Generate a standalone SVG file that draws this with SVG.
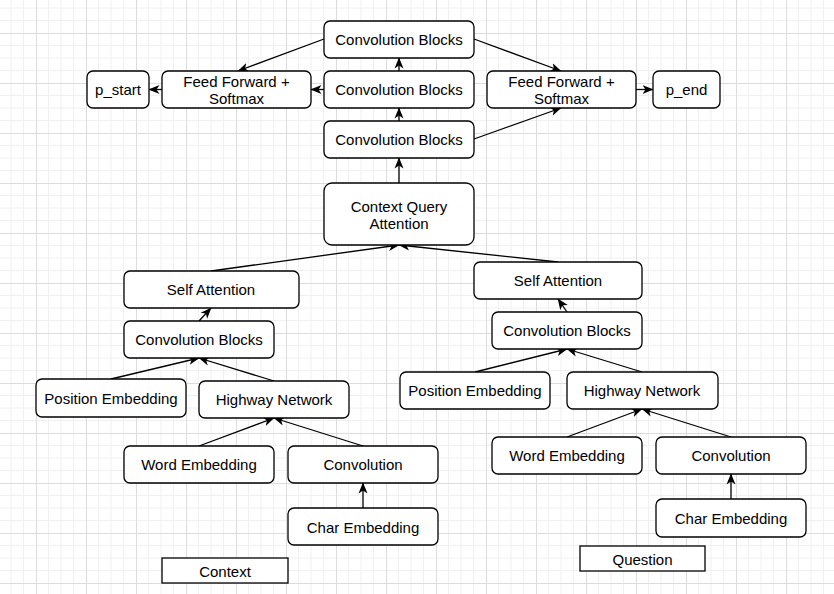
<svg xmlns="http://www.w3.org/2000/svg" width="834" height="594" viewBox="0 0 834 594">
  <defs>
    <pattern id="grid" x="36" y="33" width="50" height="50" patternUnits="userSpaceOnUse">
      <path d="M12.5,0V50M25,0V50M37.5,0V50M0,12.5H50M0,25H50M0,37.5H50" stroke="#f0f0f0" stroke-width="1" fill="none"/>
      <path d="M0.5,0V50M0,0.5H50" stroke="#dcdcdc" stroke-width="1" fill="none"/>
    </pattern>
    <marker id="arr" viewBox="0 0 11 10" markerWidth="11" markerHeight="10" refX="10.5" refY="5" orient="auto" markerUnits="userSpaceOnUse">
      <path d="M0,0.5 L11,5 L0,9.5 L3,5 Z" fill="#000"/>
    </marker>
  </defs>
  <style>
    .n rect { fill: #fff; stroke: #000; stroke-width: 1.3; }
    .n text { font-family: "Liberation Sans", Arial, sans-serif; font-size: 15px; fill: #000; text-anchor: middle; dominant-baseline: central; }
    #connectors line { stroke: #000; stroke-width: 1.3; fill: none; marker-end: url(#arr); }
  </style>
  <rect width="834" height="594" fill="#fff"/>
  <rect width="834" height="594" fill="url(#grid)"/>

  <g id="connectors">
    <line x1="324" y1="39" x2="238" y2="71"/>
    <line x1="474" y1="39" x2="561" y2="71"/>
    <line x1="399" y1="71" x2="399" y2="58"/>
    <line x1="324" y1="89.5" x2="311" y2="89.5"/>
    <line x1="162" y1="89.5" x2="149" y2="89.5"/>
    <line x1="399" y1="121" x2="399" y2="108"/>
    <line x1="474" y1="139" x2="561" y2="108"/>
    <line x1="636" y1="89.5" x2="653" y2="89.5"/>
    <line x1="399" y1="183" x2="399" y2="158"/>
    <line x1="211" y1="271" x2="399" y2="245"/>
    <line x1="558" y1="262" x2="399" y2="245"/>
    <line x1="199" y1="321" x2="211" y2="308"/>
    <line x1="567" y1="312" x2="558" y2="299"/>
    <line x1="111" y1="379" x2="199" y2="358"/>
    <line x1="274" y1="381" x2="199" y2="358"/>
    <line x1="199" y1="446" x2="274" y2="418"/>
    <line x1="363" y1="446" x2="274" y2="418"/>
    <line x1="363" y1="508" x2="363" y2="483"/>
    <line x1="475" y1="372" x2="567" y2="349"/>
    <line x1="642" y1="372" x2="567" y2="349"/>
    <line x1="567" y1="437" x2="642" y2="409"/>
    <line x1="731" y1="437" x2="642" y2="409"/>
    <line x1="731" y1="499" x2="731" y2="474"/>
  </g>

  <g id="conv-top" class="n"><rect x="324" y="21" width="150" height="37" rx="6"/><text x="399" y="39.5">Convolution Blocks</text></g>
  <g id="conv-mid" class="n"><rect x="324" y="71" width="150" height="37" rx="6"/><text x="399" y="89.5">Convolution Blocks</text></g>
  <g id="conv-bot" class="n"><rect x="324" y="121" width="150" height="37" rx="6"/><text x="399" y="139.5">Convolution Blocks</text></g>
  <g id="ff-left" class="n"><rect x="162" y="71" width="149" height="37" rx="6"/><text x="236.5" y="81">Feed Forward +</text><text x="236.5" y="98.5">Softmax</text></g>
  <g id="p-start" class="n"><rect x="87" y="71" width="62" height="37" rx="6"/><text x="118" y="89.5">p_start</text></g>
  <g id="ff-right" class="n"><rect x="487" y="71" width="149" height="37" rx="6"/><text x="561.5" y="81">Feed Forward +</text><text x="561.5" y="98.5">Softmax</text></g>
  <g id="p-end" class="n"><rect x="653" y="71" width="67" height="37" rx="6"/><text x="686.5" y="89.5">p_end</text></g>
  <g id="cqa" class="n"><rect x="324" y="183" width="150" height="62" rx="8"/><text x="399" y="206">Context Query</text><text x="399" y="223.5">Attention</text></g>

  <g id="c-selfatt" class="n"><rect x="124" y="271" width="175" height="37" rx="6"/><text x="211" y="289.5">Self Attention</text></g>
  <g id="c-conv" class="n"><rect x="124" y="321" width="150" height="37" rx="6"/><text x="199" y="339.5">Convolution Blocks</text></g>
  <g id="c-pos" class="n"><rect x="36" y="379" width="150" height="38" rx="6"/><text x="111" y="398">Position Embedding</text></g>
  <g id="c-highway" class="n"><rect x="199" y="381" width="150" height="37" rx="6"/><text x="274" y="399.5">Highway Network</text></g>
  <g id="c-word" class="n"><rect x="124" y="446" width="150" height="37" rx="6"/><text x="199" y="464.5">Word Embedding</text></g>
  <g id="c-convolution" class="n"><rect x="288" y="446" width="150" height="37" rx="6"/><text x="363" y="464.5">Convolution</text></g>
  <g id="c-char" class="n"><rect x="288" y="508" width="150" height="37" rx="6"/><text x="363" y="527">Char Embedding</text></g>
  <g id="c-label" class="n"><rect x="162" y="558" width="126" height="25"/><text x="225" y="571">Context</text></g>

  <g id="q-selfatt" class="n"><rect x="474" y="262" width="168" height="37" rx="6"/><text x="558" y="280.5">Self Attention</text></g>
  <g id="q-conv" class="n"><rect x="492" y="312" width="150" height="37" rx="6"/><text x="567" y="330.5">Convolution Blocks</text></g>
  <g id="q-pos" class="n"><rect x="400" y="372" width="150" height="37" rx="6"/><text x="475" y="390.5">Position Embedding</text></g>
  <g id="q-highway" class="n"><rect x="567" y="372" width="151" height="37" rx="6"/><text x="642" y="390.5">Highway Network</text></g>
  <g id="q-word" class="n"><rect x="492" y="437" width="150" height="37" rx="6"/><text x="567" y="455.5">Word Embedding</text></g>
  <g id="q-convolution" class="n"><rect x="656" y="437" width="150" height="37" rx="6"/><text x="731" y="455.5">Convolution</text></g>
  <g id="q-char" class="n"><rect x="656" y="499" width="150" height="38" rx="6"/><text x="731" y="518">Char Embedding</text></g>
  <g id="q-label" class="n"><rect x="580" y="546" width="125" height="25"/><text x="642.5" y="559">Question</text></g>
</svg>
